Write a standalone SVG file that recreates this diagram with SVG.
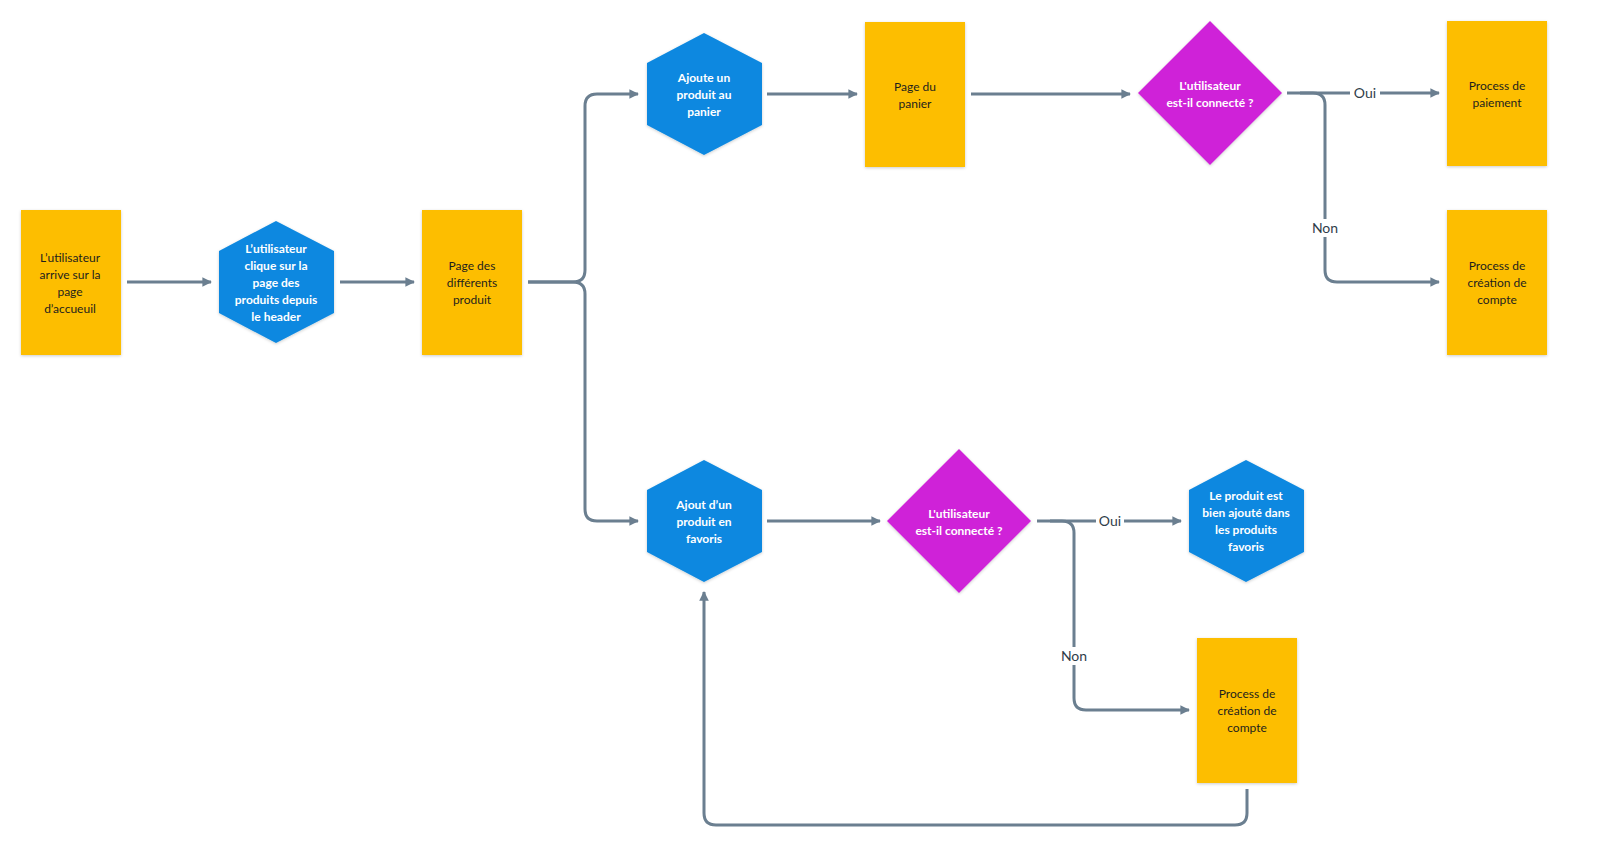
<svg xmlns="http://www.w3.org/2000/svg" width="1600" height="867" viewBox="0 0 1600 867">
<defs>
<marker id="ah" viewBox="0 0 10 10" refX="9" refY="5" markerWidth="3.2" markerHeight="3.2" orient="auto"><path d="M0,0L10,5L0,10z" fill="#6b7f90"/></marker>
<filter id="sh" x="-10%" y="-10%" width="130%" height="130%"><feDropShadow dx="0" dy="1" stdDeviation="1.5" flood-opacity="0.2"/></filter>
</defs>
<style>
.r{fill:#fdbe00;filter:url(#sh)}
.h{fill:#0a88e0;filter:url(#sh)}
.d{fill:#cf23d8;filter:url(#sh)}
text{font-family:Lato,"Open Sans",sans-serif;font-size:12px;text-anchor:middle}
.t{fill:#1e1e1e}
.w{fill:#fff;font-weight:bold}
.c path{fill:none;stroke:#6b7f90;stroke-width:3}
.l{font-size:14px;fill:#2f3d4a}
</style>
<rect width="1600" height="867" fill="#fff"/>
<g class="c">
<path d="M127,282H211" marker-end="url(#ah)"/>
<path d="M340,282H414" marker-end="url(#ah)"/>
<path d="M528,282H573Q585,282 585,270V106Q585,94 597,94H638" marker-end="url(#ah)"/>
<path d="M528,282H573Q585,282 585,294V509Q585,521 597,521H638" marker-end="url(#ah)"/>
<path d="M767,94H857" marker-end="url(#ah)"/>
<path d="M971,94H1130" marker-end="url(#ah)"/>
<path d="M1287,93H1439" marker-end="url(#ah)"/>
<path d="M1300,93H1313Q1325,93 1325,105V270Q1325,282 1337,282H1439" marker-end="url(#ah)"/>
<path d="M767,521H880" marker-end="url(#ah)"/>
<path d="M1037,521H1181" marker-end="url(#ah)"/>
<path d="M1050,521H1062Q1074,521 1074,533V698Q1074,710 1086,710H1189" marker-end="url(#ah)"/>
<path d="M1247,789V813Q1247,825 1235,825H716Q704,825 704,813V592" marker-end="url(#ah)"/>
</g>
<rect x="1350" y="84" width="30" height="18" fill="#fff"/><text class="l" x="1365" y="98">Oui</text>
<rect x="1308" y="219" width="34" height="18" fill="#fff"/><text class="l" x="1325" y="233">Non</text>
<rect x="1096" y="512" width="28" height="18" fill="#fff"/><text class="l" x="1110" y="526">Oui</text>
<rect x="1057" y="647" width="34" height="18" fill="#fff"/><text class="l" x="1074" y="661">Non</text>
<g id="n1"><rect class="r" x="21" y="210" width="100" height="145"/><text class="t" x="70" y="262">L’utilisateur</text><text class="t" x="70" y="279">arrive sur la</text><text class="t" x="70" y="296">page</text><text class="t" x="70" y="313">d’accueuil</text></g>
<g id="n2"><polygon class="h" points="276,221 334,251 334,313 276,343 219,313 219,251"/><text class="w" x="276" y="253">L’utilisateur</text><text class="w" x="276" y="270">clique sur la</text><text class="w" x="276" y="287">page des</text><text class="w" x="276" y="304">produits depuis</text><text class="w" x="276" y="321">le header</text></g>
<g id="n3"><rect class="r" x="422" y="210" width="100" height="145"/><text class="t" x="472" y="270">Page des</text><text class="t" x="472" y="287">différents</text><text class="t" x="472" y="304">produit</text></g>
<g id="n4"><polygon class="h" points="704,33 762,63 762,125 704,155 647,125 647,63"/><text class="w" x="704" y="82">Ajoute un</text><text class="w" x="704" y="99">produit au</text><text class="w" x="704" y="116">panier</text></g>
<g id="n5"><rect class="r" x="865" y="22" width="100" height="145"/><text class="t" x="915" y="91">Page du</text><text class="t" x="915" y="108">panier</text></g>
<g id="n6"><polygon class="d" points="1210,21 1282,93 1210,165 1138,93"/><text class="w" x="1210" y="90">L'utilisateur</text><text class="w" x="1210" y="107">est-il connecté ?</text></g>
<g id="n7"><rect class="r" x="1447" y="21" width="100" height="145"/><text class="t" x="1497" y="90">Process de</text><text class="t" x="1497" y="107">paiement</text></g>
<g id="n8"><rect class="r" x="1447" y="210" width="100" height="145"/><text class="t" x="1497" y="270">Process de</text><text class="t" x="1497" y="287">création de</text><text class="t" x="1497" y="304">compte</text></g>
<g id="n9"><polygon class="h" points="704,460 762,490 762,552 704,582 647,552 647,490"/><text class="w" x="704" y="509">Ajout d’un</text><text class="w" x="704" y="526">produit en</text><text class="w" x="704" y="543">favoris</text></g>
<g id="n10"><polygon class="d" points="959,449 1031,521 959,593 887,521"/><text class="w" x="959" y="518">L'utilisateur</text><text class="w" x="959" y="535">est-il connecté ?</text></g>
<g id="n11"><polygon class="h" points="1246,460 1304,490 1304,552 1246,582 1189,552 1189,490"/><text class="w" x="1246" y="500">Le produit est</text><text class="w" x="1246" y="517">bien ajouté dans</text><text class="w" x="1246" y="534">les produits</text><text class="w" x="1246" y="551">favoris</text></g>
<g id="n12"><rect class="r" x="1197" y="638" width="100" height="145"/><text class="t" x="1247" y="698">Process de</text><text class="t" x="1247" y="715">création de</text><text class="t" x="1247" y="732">compte</text></g>
</svg>
